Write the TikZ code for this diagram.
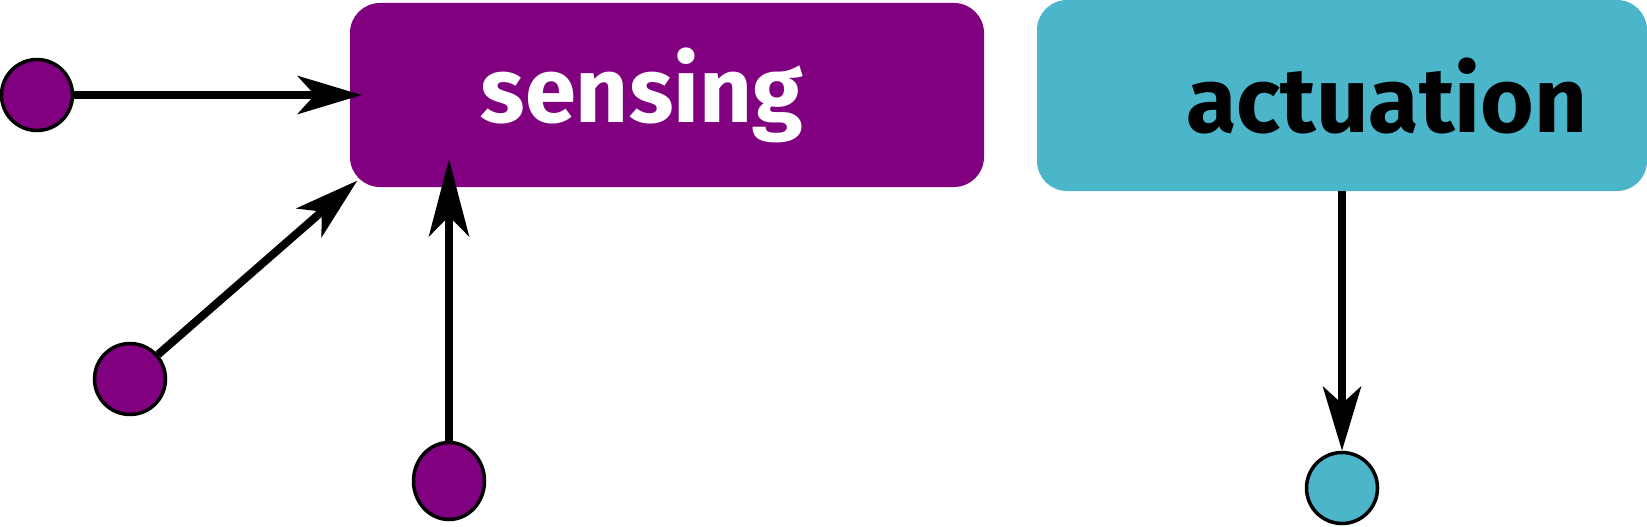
\documentclass[tikz,border=0pt]{standalone}
\usepackage{fontspec}
\setmainfont{Fira Sans}
\usepackage{tikz}
\usetikzlibrary{positioning, arrows.meta, shapes.geometric}

\definecolor{sensecol}{HTML}{800080}
\definecolor{actcol}{HTML}{4BB5C9}

\begin{document}
\begin{tikzpicture}[
  x=1pt, y=-1pt,
  font=\fontsize{92}{96}\selectfont\bfseries,
  block/.style={rounded corners=30pt, inner sep=0pt, align=center},
  dot/.style={circle, draw, line width=3.5pt, minimum size=71pt, inner sep=0pt},
  arr/.style={-{Stealth[length=64pt, width=38pt, inset=17pt]}, line width=8pt}
]
  \useasboundingbox (0,0) rectangle (1647,527);

  % Blöcke
  \node[block, fill=sensecol, text=white, minimum width=634pt, minimum height=184pt] (sensing)
    at (667, 95) {\hspace*{-50pt}sensing};
  \node[block, fill=actcol, text=black, minimum width=610pt, minimum height=191pt] (actuation)
    at (1342, 95.5) {\hspace*{90pt}actuation};

  % Eingänge
  \node[dot, fill=sensecol] (in1) at (37, 95) {};
  \node[dot, fill=sensecol] (in2) at (130, 379) {};
  \node[dot, ellipse, fill=sensecol, minimum width=71pt, minimum height=77pt] (in3) at (449, 481) {};

  % Ausgang
  \node[dot, fill=actcol] (out1) at (1342, 488) {};

  % Pfeile
  \draw[arr, shorten >=-12pt] (in1) -- (sensing.west);
  \draw[arr, shorten >=-10pt] (in2) -- (sensing.south west);
  \draw[arr, -{Stealth[length=77pt, width=40pt, inset=20pt]}, shorten >=-28pt]
    (in3.north) -- (in3.north |- sensing.south);
  \draw[arr] (actuation.south) -- (out1);
\end{tikzpicture}
\end{document}
